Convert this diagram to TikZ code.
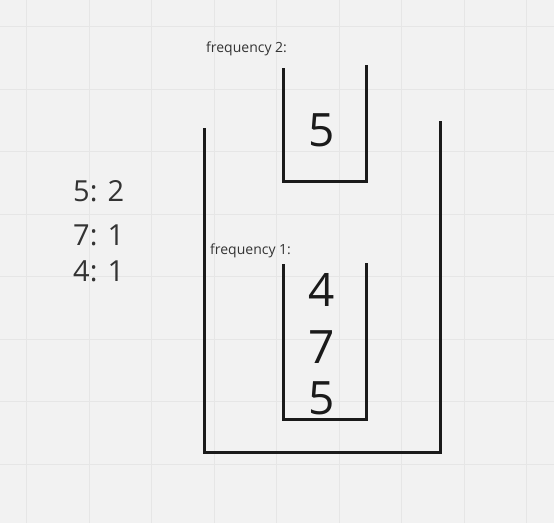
\documentclass[tikz,border=0pt]{standalone}
\usepackage{fontspec}
\setmainfont{Open Sans}
\definecolor{paper}{HTML}{F2F2F2}
\definecolor{gridgray}{HTML}{E6E6E6}
\definecolor{ink}{HTML}{1A1A1A}
\definecolor{labelgray}{HTML}{333333}
\begin{document}
\begin{tikzpicture}
	[x=1pt,y=-1pt,
	gridline/.style={draw=gridgray,line width=1pt},
	cupline/.style={draw=ink,line width=3pt},
	bignum/.style={font=\fontsize{46}{46}\selectfont,text=ink,inner sep=0pt},
	countnum/.style={font=\fontsize{29}{29}\selectfont,text=labelgray,inner sep=0pt,anchor=west},
	smalllabel/.style={font=\fontsize{14}{14}\selectfont,text=labelgray,inner sep=0pt,anchor=west},]
	\fill[paper] (0,0) rectangle (554,523);
	\useasboundingbox (0,0) rectangle (554,523);
	% grid
	\foreach \g in {26.5,89,...,526.5}
	{
		\draw[gridline] (\g,0) -- (\g,523);
		\draw[gridline] (0,\g) -- (554,\g);
	}
	% outer stack
	\draw[cupline] (204,128) -- (204,452) -- (440,452) -- (440,121);
	% frequency 2 stack
	\draw[cupline] (283,68) -- (283,181) -- (366,181) -- (366,65);
	% frequency 1 stack
	\draw[cupline] (283,264) -- (283,419) -- (366,419) -- (366,263);
	% labels
	\node[smalllabel,name=f2] at (206,49) {frequency 2:};
	\node[smalllabel,name=f1] at (210,251) {frequency 1:};
	\node[bignum,name=s2a] at (322,130) {5};
	\node[bignum,name=s1a] at (322,290) {4};
	\node[bignum,name=s1b] at (322,347) {7};
	\node[bignum,name=s1c] at (322,398) {5};
	% counts
	\node[countnum,name=c5] at (73,191) {5: 2};
	\node[countnum,name=c7] at (73,235) {7: 1};
	\node[countnum,name=c4] at (73,271) {4: 1};
\end{tikzpicture}
\end{document}
